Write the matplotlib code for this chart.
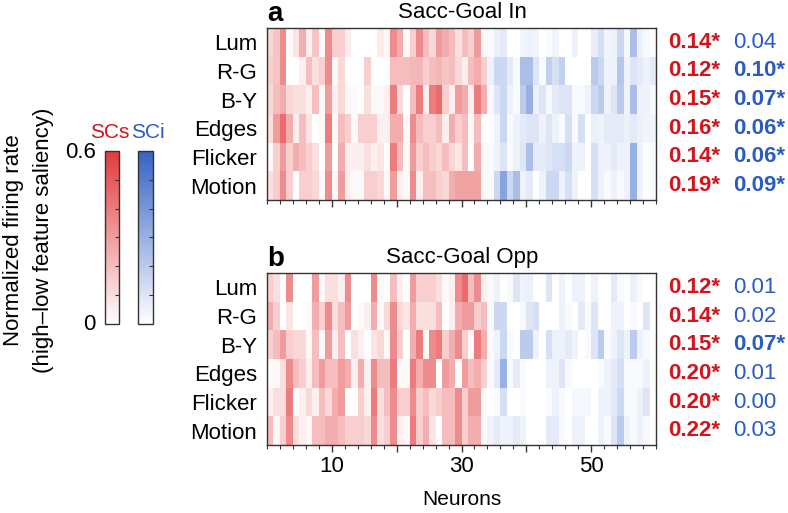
import numpy as np
import matplotlib
matplotlib.use("Agg")
import matplotlib.pyplot as plt
from matplotlib.colors import LinearSegmentedColormap, Normalize
from matplotlib.cm import ScalarMappable
from matplotlib.ticker import MultipleLocator

plt.rcParams['font.family'] = ['Liberation Sans', 'DejaVu Sans']

features = ["Lum", "R-G", "B-Y", "Edges", "Flicker", "Motion"]
n_scs = 34  # neurons 1..34 are SCs (red), 35..60 SCi (blue)

# Panel a: Sacc-Goal In (60 neurons per feature)
a_lum = [0.12,0.18,0.35,0.02,0.08,0.25,0.05,0.18,0.02,0.35,0.15,0.15,0.06,0.0,0.0,0.0,0.0,0.06,0.02,0.35,
         0.25,0.02,0.15,0.35,0.20,0.12,0.30,0.25,0.20,0.10,0.20,0.15,0.30,0.02,0.02,0.06,0.08,0.0,0.0,0.04,
         0.05,0.04,0.0,0.02,0.04,0.0,0.0,0.05,0.0,0.0,0.07,0.12,0.04,0.05,0.15,0.03,0.25,0.06,0.02,0.0]
a_rg = [0.15,0.18,0.35,0.0,0.0,0.05,0.20,0.10,0.15,0.35,0.02,0.12,0.0,0.0,0.0,0.15,0.0,0.0,0.0,0.20,
        0.20,0.20,0.22,0.22,0.15,0.20,0.22,0.18,0.20,0.12,0.05,0.20,0.25,0.15,0.05,0.15,0.15,0.08,0.02,0.25,
        0.25,0.10,0.02,0.18,0.12,0.18,0.0,0.0,0.0,0.0,0.20,0.15,0.05,0.05,0.22,0.05,0.10,0.08,0.05,0.08]
a_by = [0.12,0.20,0.25,0.12,0.10,0.10,0.05,0.20,0.02,0.30,0.05,0.12,0.02,0.02,0.0,0.10,0.02,0.02,0.05,0.40,
        0.12,0.0,0.20,0.40,0.05,0.40,0.45,0.15,0.05,0.30,0.25,0.05,0.40,0.25,0.02,0.10,0.15,0.05,0.02,0.20,
        0.30,0.05,0.10,0.02,0.08,0.10,0.10,0.02,0.02,0.05,0.15,0.20,0.05,0.10,0.20,0.05,0.25,0.05,0.05,0.02]
a_edges = [0.10,0.30,0.45,0.25,0.05,0.20,0.08,0.0,0.02,0.40,0.02,0.20,0.15,0.02,0.15,0.15,0.15,0.05,0.05,0.25,
           0.25,0.02,0.35,0.20,0.15,0.15,0.20,0.05,0.25,0.15,0.20,0.02,0.20,0.0,0.0,0.05,0.15,0.02,0.05,0.08,
           0.10,0.10,0.05,0.10,0.05,0.02,0.12,0.02,0.12,0.0,0.06,0.05,0.08,0.08,0.08,0.06,0.08,0.06,0.04,0.04]
a_flicker = [0.02,0.15,0.30,0.15,0.25,0.20,0.15,0.10,0.0,0.30,0.0,0.25,0.05,0.05,0.05,0.10,0.05,0.08,0.0,0.40,
             0.20,0.02,0.30,0.15,0.20,0.15,0.12,0.20,0.12,0.08,0.20,0.0,0.25,0.02,0.02,0.05,0.10,0.02,0.05,0.10,
             0.25,0.08,0.08,0.10,0.12,0.12,0.15,0.05,0.05,0.0,0.12,0.05,0.05,0.08,0.05,0.05,0.30,0.05,0.0,0.02]
a_motion = [0.10,0.15,0.35,0.15,0.0,0.15,0.15,0.12,0.02,0.35,0.02,0.30,0.05,0.02,0.02,0.15,0.15,0.12,0.02,0.30,
            0.05,0.02,0.35,0.05,0.20,0.20,0.15,0.12,0.25,0.28,0.28,0.28,0.28,0.02,0.02,0.15,0.35,0.15,0.25,0.05,
            0.08,0.0,0.05,0.15,0.15,0.05,0.12,0.05,0.0,0.0,0.12,0.05,0.02,0.05,0.02,0.05,0.30,0.05,0.0,0.02]

# Panel b: Sacc-Goal Opp
b_lum = [0.15,0.10,0.0,0.35,0.0,0.0,0.0,0.30,0.02,0.10,0.10,0.05,0.35,0.0,0.0,0.0,0.35,0.02,0.0,0.20,
         0.05,0.0,0.30,0.15,0.15,0.15,0.10,0.02,0.05,0.35,0.45,0.20,0.35,0.05,0.02,0.05,0.0,0.02,0.10,0.05,
         0.06,0.0,0.0,0.10,0.0,0.05,0.0,0.05,0.05,0.0,0.05,0.0,0.0,0.08,0.02,0.0,0.06,0.02,0.0,0.0]
b_rg = [0.25,0.15,0.0,0.08,0.0,0.0,0.02,0.25,0.15,0.35,0.10,0.20,0.30,0.0,0.02,0.05,0.25,0.02,0.12,0.35,
        0.12,0.08,0.25,0.10,0.10,0.10,0.20,0.0,0.05,0.25,0.30,0.30,0.15,0.20,0.02,0.15,0.15,0.0,0.0,0.02,
        0.10,0.12,0.0,0.0,0.0,0.05,0.02,0.0,0.08,0.02,0.10,0.0,0.0,0.05,0.05,0.0,0.02,0.0,0.10,0.0]
b_by = [0.15,0.20,0.30,0.15,0.12,0.12,0.02,0.20,0.02,0.30,0.05,0.20,0.0,0.10,0.05,0.0,0.08,0.12,0.02,0.35,
        0.15,0.0,0.25,0.40,0.02,0.35,0.40,0.15,0.25,0.35,0.15,0.02,0.40,0.25,0.02,0.05,0.15,0.02,0.0,0.20,
        0.20,0.05,0.0,0.12,0.05,0.05,0.08,0.05,0.0,0.02,0.10,0.20,0.02,0.05,0.10,0.05,0.20,0.05,0.02,0.0]
b_edges = [0.02,0.02,0.10,0.35,0.20,0.15,0.05,0.20,0.30,0.20,0.20,0.30,0.25,0.05,0.25,0.05,0.35,0.20,0.20,0.40,
           0.02,0.02,0.40,0.25,0.35,0.35,0.0,0.30,0.25,0.0,0.30,0.20,0.25,0.15,0.02,0.08,0.30,0.02,0.08,0.02,
           0.0,0.0,0.0,0.05,0.05,0.10,0.02,0.0,0.0,0.0,0.0,0.02,0.05,0.08,0.12,0.02,0.02,0.02,0.05,0.0]
b_flicker = [0.05,0.10,0.10,0.40,0.0,0.05,0.12,0.05,0.20,0.12,0.25,0.30,0.0,0.0,0.15,0.05,0.40,0.10,0.20,0.35,
             0.15,0.15,0.35,0.15,0.20,0.12,0.15,0.20,0.20,0.35,0.15,0.30,0.30,0.02,0.0,0.02,0.12,0.0,0.0,0.02,
             0.0,0.0,0.0,0.02,0.05,0.02,0.0,0.03,0.03,0.03,0.0,0.05,0.05,0.08,0.15,0.02,0.02,0.05,0.10,0.0]
b_motion = [0.20,0.02,0.15,0.35,0.10,0.05,0.02,0.20,0.20,0.25,0.25,0.20,0.15,0.15,0.15,0.12,0.35,0.10,0.15,0.35,
            0.05,0.02,0.40,0.15,0.25,0.08,0.0,0.20,0.20,0.35,0.15,0.25,0.25,0.02,0.05,0.08,0.05,0.05,0.08,0.05,
            0.0,0.0,0.0,0.08,0.08,0.02,0.0,0.05,0.05,0.0,0.0,0.05,0.02,0.10,0.20,0.05,0.02,0.05,0.02,0.0]

a_scs_vals = ["0.14*", "0.12*", "0.15*", "0.16*", "0.14*", "0.19*"]
a_sci_vals = ["0.04", "0.10*", "0.07*", "0.06*", "0.06*", "0.09*"]
b_scs_vals = ["0.12*", "0.14*", "0.15*", "0.20*", "0.20*", "0.22*"]
b_sci_vals = ["0.01", "0.02", "0.07*", "0.01", "0.00", "0.03"]

titles = ["Sacc-Goal In", "Sacc-Goal Opp"]
letters = ["a", "b"]
xtick_labels = [10, 30, 50]
vmax = 0.6

RED_TEXT = "#d3141c"
BLUE_TEXT = "#2a5bc3"
red_cmap = LinearSegmentedColormap.from_list("scs", ["#ffffff", "#e23a3c"])
blue_cmap = LinearSegmentedColormap.from_list("sci", ["#ffffff", "#3462c6"])

FS = 16
W, H = 788, 513
fig = plt.figure(figsize=(W / 100, H / 100), dpi=100)


def rect(x0, y0, x1, y1):
    return [x0 / W, 1 - y1 / H, (x1 - x0) / W, (y1 - y0) / H]


def fx(x):
    return x / W


def fy(y):
    return 1 - y / H


panels = [
    (np.array([a_lum, a_rg, a_by, a_edges, a_flicker, a_motion]), a_scs_vals, a_sci_vals, (267, 28, 656, 200)),
    (np.array([b_lum, b_rg, b_by, b_edges, b_flicker, b_motion]), b_scs_vals, b_sci_vals, (267, 273, 656, 445)),
]

norm = Normalize(0, vmax)
for i, (data, scs_vals, sci_vals, box) in enumerate(panels):
    ax = fig.add_axes(rect(*box))
    n = data.shape[1]
    xe = np.arange(n + 1)
    ye = np.arange(len(features) + 1)
    red_part = np.ma.masked_array(data, mask=np.zeros_like(data, dtype=bool))
    red_part.mask[:, n_scs:] = True
    blue_part = np.ma.masked_array(data, mask=np.zeros_like(data, dtype=bool))
    blue_part.mask[:, :n_scs] = True
    ax.pcolormesh(xe, ye, red_part, cmap=red_cmap, norm=norm, shading="flat")
    ax.pcolormesh(xe, ye, blue_part, cmap=blue_cmap, norm=norm, shading="flat")
    ax.set_xlim(0, n)
    ax.set_ylim(len(features), 0)
    ax.set_yticks(np.arange(len(features)) + 0.5)
    ax.set_yticklabels(features, fontsize=FS)
    ax.tick_params(axis="y", length=0, pad=7)
    ax.xaxis.set_minor_locator(MultipleLocator(2))
    ax.tick_params(axis="x", which="major", length=5, width=1, direction="out", color="#333333")
    ax.tick_params(axis="x", which="minor", length=3, width=0.8, direction="out", color="#333333")
    ticks = np.arange(10, n, 10)
    if i == 1:
        ax.set_xticks(ticks, labels=[str(t) if t in xtick_labels else "" for t in ticks])
        ax.tick_params(axis="x", labelsize=FS, pad=3)
        ax.set_xlabel("Neurons", fontsize=15, labelpad=9)
    else:
        ax.set_xticks(ticks, labels=[])
    for sp in ax.spines.values():
        sp.set_linewidth(1.0)
        sp.set_color("#333333")
    # right-side values
    for r in range(len(features)):
        yc = 1 - (r + 0.5) / len(features)
        ax.text(1.031, yc, scs_vals[r], transform=ax.transAxes,
                color=RED_TEXT, fontsize=FS, fontweight="bold", va="center", ha="left")
        bold = sci_vals[r].endswith("*")
        ax.text(1.198, yc, sci_vals[r], transform=ax.transAxes,
                color=BLUE_TEXT, fontsize=FS, fontweight="bold" if bold else "normal",
                va="center", ha="left")
    # title and panel letter
    top = box[1]
    fig.text(fx(462), fy(top - 10), titles[i], ha="center", va="baseline", fontsize=FS)
    fig.text(fx(267), fy(top - 7), letters[i], ha="left", va="baseline",
             fontsize=20, fontweight="bold")

# colorbars
for cmap, x0, x1, label, col, lx in [(red_cmap, 105, 119, "SCs", RED_TEXT, 110),
                                      (blue_cmap, 138, 153, "SCi", BLUE_TEXT, 148)]:
    cax = fig.add_axes(rect(x0, 151, x1, 324))
    cb = fig.colorbar(ScalarMappable(norm=norm, cmap=cmap), cax=cax)
    cb.outline.set_linewidth(1.0)
    cb.outline.set_edgecolor("#333333")
    cax.yaxis.set_ticks_position("right")
    cax.set_yticks(np.arange(0.1, 0.6, 0.1), labels=[])
    cax.tick_params(axis="y", direction="in", length=3, width=0.8, color="#333333")
    fig.text(fx(lx), fy(132), label, color=col, fontsize=15, ha="center", va="center")

fig.text(fx(96), fy(152), "0.6", fontsize=FS, ha="right", va="center")
fig.text(fx(96), fy(324), "0", fontsize=FS, ha="right", va="center")
fig.text(fx(14), fy(240), "Normalized firing rate", rotation=90, fontsize=FS,
         ha="center", va="center")
fig.text(fx(44), fy(240), "(high\u2013low feature saliency)", rotation=90, fontsize=FS,
         ha="center", va="center")

fig.savefig("out.png", dpi=100)
